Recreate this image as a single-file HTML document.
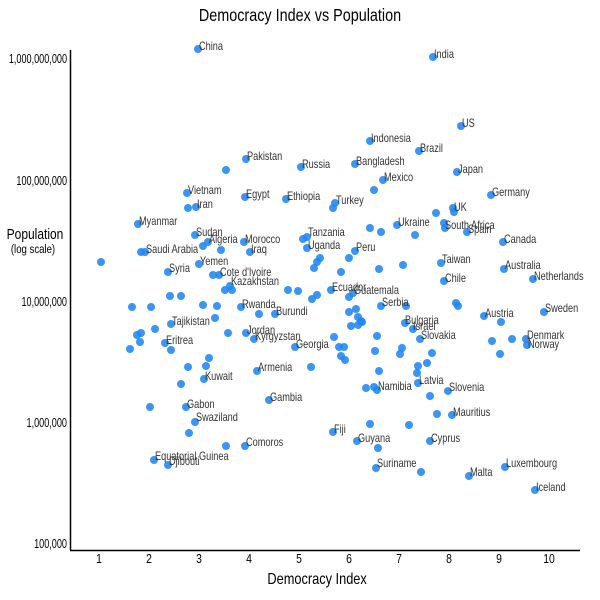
<!DOCTYPE html>
<html><head><meta charset="utf-8"><style>
body{margin:0;background:#fff}
svg{display:block}
text{font-family:"Liberation Sans",sans-serif;fill:#222;transform-box:fill-box;transform:scaleX(0.8)}
.l text{transform-origin:left center}
.l{font-size:11.5px}
.l text{fill:#333}
.t{font-size:13px}
.t text{fill:#000}
.e text{transform-origin:right center;transform:scaleX(0.7)}
.m{transform-origin:center center}
</style></head><body>
<svg width="600" height="600" xmlns="http://www.w3.org/2000/svg">
<text class="m" x="300" y="21" text-anchor="middle" style="font-size:18px;fill:#000">Democracy Index vs Population</text>
<text class="m" x="35" y="239" text-anchor="middle" style="font-size:15px;fill:#000">Population</text>
<text class="m" x="33" y="253" text-anchor="middle" style="font-size:12px;fill:#000">(log scale)</text>
<text class="m" x="317" y="584" text-anchor="middle" style="font-size:16px;fill:#000">Democracy Index</text>
<line x1="70.5" y1="50" x2="70.5" y2="550" stroke="#000" stroke-width="1.5"/>
<line x1="70" y1="550.5" x2="580" y2="550.5" stroke="#000" stroke-width="1.5"/>
<g class="t e" text-anchor="end">
<text x="67" y="63">1,000,000,000</text>
<text x="67" y="185">100,000,000</text>
<text x="67" y="306">10,000,000</text>
<text x="67" y="427">1,000,000</text>
<text x="67" y="548">100,000</text>
</g>
<g class="t" text-anchor="middle">
<text class="m" x="99" y="563">1</text><text class="m" x="149" y="563">2</text><text class="m" x="199" y="563">3</text><text class="m" x="249" y="563">4</text><text class="m" x="299" y="563">5</text><text class="m" x="349" y="563">6</text><text class="m" x="399" y="563">7</text><text class="m" x="449" y="563">8</text><text class="m" x="499" y="563">9</text><text class="m" x="549" y="563">10</text>
</g>
<g fill="#1f86f5" fill-opacity="0.88">
<circle cx="198" cy="49" r="4"/><circle cx="433" cy="57" r="4"/><circle cx="461" cy="126" r="4"/><circle cx="370" cy="141" r="4"/><circle cx="246" cy="159" r="4"/><circle cx="301" cy="167" r="4"/><circle cx="355" cy="164" r="4"/><circle cx="419" cy="151" r="4"/><circle cx="457" cy="172" r="4"/><circle cx="383" cy="180" r="4"/><circle cx="226" cy="170" r="4"/><circle cx="374" cy="190" r="4"/>
<circle cx="187" cy="193" r="4"/><circle cx="245" cy="197" r="4"/><circle cx="286" cy="199" r="4"/><circle cx="335" cy="203" r="4"/><circle cx="333" cy="208" r="4"/><circle cx="491" cy="195" r="4"/><circle cx="196" cy="207" r="4"/><circle cx="188" cy="208" r="4"/><circle cx="453" cy="208" r="4"/><circle cx="454" cy="212" r="4"/><circle cx="436" cy="213" r="4"/><circle cx="397" cy="225" r="4"/><circle cx="370" cy="228" r="4"/><circle cx="381" cy="232" r="4"/><circle cx="444" cy="223" r="4"/><circle cx="445" cy="228" r="4"/><circle cx="467" cy="232" r="4"/><circle cx="415" cy="235" r="4"/>
<circle cx="138" cy="224" r="4"/><circle cx="307" cy="237" r="4"/><circle cx="303" cy="239" r="4"/><circle cx="503" cy="242" r="4"/><circle cx="195" cy="235" r="4"/><circle cx="208" cy="242" r="4"/><circle cx="203" cy="246" r="4"/><circle cx="244" cy="242" r="4"/><circle cx="250" cy="252" r="4"/><circle cx="221" cy="250" r="4"/><circle cx="307" cy="248" r="4"/><circle cx="355" cy="251" r="4"/><circle cx="141" cy="252" r="4"/><circle cx="145" cy="252" r="4"/><circle cx="101" cy="262" r="4"/>
<circle cx="441" cy="263" r="4"/><circle cx="504" cy="269" r="4"/><circle cx="168" cy="272" r="4"/><circle cx="199" cy="264" r="4"/><circle cx="213" cy="275" r="4"/><circle cx="219" cy="275" r="4"/><circle cx="533" cy="279" r="4"/><circle cx="444" cy="281" r="4"/><circle cx="230" cy="286" r="4"/><circle cx="225" cy="290" r="4"/><circle cx="232" cy="290" r="4"/>
<circle cx="320" cy="258" r="4"/><circle cx="317" cy="262" r="4"/><circle cx="314" cy="268" r="4"/><circle cx="349" cy="258" r="4"/><circle cx="341" cy="272" r="4"/><circle cx="379" cy="269" r="4"/><circle cx="403" cy="265" r="4"/>
<circle cx="331" cy="290" r="4"/><circle cx="349" cy="297" r="4"/><circle cx="353" cy="293" r="4"/><circle cx="381" cy="306" r="4"/><circle cx="298" cy="291" r="4"/><circle cx="288" cy="290" r="4"/><circle cx="317" cy="295" r="4"/><circle cx="312" cy="299" r="4"/><circle cx="406" cy="306" r="4"/><circle cx="456" cy="303" r="4"/><circle cx="458" cy="306" r="4"/><circle cx="484" cy="316" r="4"/><circle cx="501" cy="322" r="4"/><circle cx="544" cy="312" r="4"/>
<circle cx="349" cy="312" r="4"/><circle cx="356" cy="309" r="4"/><circle cx="358" cy="317" r="4"/><circle cx="361" cy="321" r="4"/><circle cx="351" cy="326" r="4"/><circle cx="358" cy="325" r="4"/><circle cx="362" cy="322" r="4"/><circle cx="405" cy="323" r="4"/><circle cx="413" cy="329" r="4"/><circle cx="420" cy="339" r="4"/><circle cx="377" cy="336" r="4"/><circle cx="334" cy="337" r="4"/><circle cx="339" cy="347" r="4"/><circle cx="344" cy="347" r="4"/><circle cx="341" cy="356" r="4"/><circle cx="345" cy="360" r="4"/><circle cx="311" cy="367" r="4"/><circle cx="375" cy="351" r="4"/><circle cx="402" cy="348" r="4"/><circle cx="379" cy="371" r="4"/><circle cx="432" cy="353" r="4"/><circle cx="427" cy="363" r="4"/><circle cx="418" cy="366" r="4"/><circle cx="417" cy="373" r="4"/><circle cx="400" cy="354" r="4"/>
<circle cx="512" cy="339" r="4"/><circle cx="526" cy="339" r="4"/><circle cx="527" cy="345" r="4"/><circle cx="492" cy="341" r="4"/><circle cx="500" cy="354" r="4"/>
<circle cx="132" cy="307" r="4"/><circle cx="151" cy="307" r="4"/><circle cx="170" cy="296" r="4"/><circle cx="181" cy="296" r="4"/><circle cx="203" cy="305" r="4"/><circle cx="217" cy="306" r="4"/><circle cx="215" cy="318" r="4"/><circle cx="241" cy="307" r="4"/><circle cx="259" cy="314" r="4"/><circle cx="275" cy="314" r="4"/><circle cx="171" cy="324" r="4"/><circle cx="155" cy="329" r="4"/><circle cx="137" cy="335" r="4"/><circle cx="141" cy="333" r="4"/><circle cx="140" cy="342" r="4"/><circle cx="130" cy="349" r="4"/><circle cx="165" cy="343" r="4"/><circle cx="171" cy="350" r="4"/><circle cx="228" cy="333" r="4"/><circle cx="246" cy="333" r="4"/><circle cx="254" cy="339" r="4"/><circle cx="295" cy="347" r="4"/><circle cx="209" cy="358" r="4"/><circle cx="206" cy="366" r="4"/><circle cx="188" cy="367" r="4"/><circle cx="181" cy="384" r="4"/><circle cx="204" cy="379" r="4"/><circle cx="257" cy="371" r="4"/><circle cx="150" cy="407" r="4"/><circle cx="186" cy="407" r="4"/><circle cx="269" cy="400" r="4"/><circle cx="195" cy="422" r="4"/><circle cx="189" cy="433" r="4"/>
<circle cx="366" cy="388" r="4"/><circle cx="374" cy="387" r="4"/><circle cx="377" cy="390" r="4"/><circle cx="418" cy="383" r="4"/><circle cx="430" cy="396" r="4"/><circle cx="448" cy="391" r="4"/><circle cx="437" cy="414" r="4"/><circle cx="452" cy="415" r="4"/><circle cx="370" cy="424" r="4"/><circle cx="409" cy="425" r="4"/><circle cx="333" cy="432" r="4"/><circle cx="357" cy="441" r="4"/><circle cx="378" cy="448" r="4"/><circle cx="430" cy="441" r="4"/><circle cx="376" cy="468" r="4"/><circle cx="421" cy="472" r="4"/><circle cx="469" cy="476" r="4"/><circle cx="505" cy="467" r="4"/><circle cx="535" cy="490" r="4"/>
<circle cx="226" cy="446" r="4"/><circle cx="245" cy="446" r="4"/><circle cx="154" cy="460" r="4"/><circle cx="168" cy="465" r="4"/>
</g>
<g class="l">
<text x="199" y="50">China</text><text x="434" y="58">India</text><text x="462" y="127">US</text><text x="371" y="142">Indonesia</text><text x="247" y="160">Pakistan</text><text x="302" y="168">Russia</text><text x="356" y="165">Bangladesh</text><text x="420" y="152">Brazil</text><text x="458" y="173">Japan</text><text x="384" y="181">Mexico</text>
<text x="188" y="194">Vietnam</text><text x="246" y="198">Egypt</text><text x="287" y="200">Ethiopia</text><text x="336" y="204">Turkey</text><text x="492" y="196">Germany</text><text x="197" y="208">Iran</text><text x="454" y="211">UK</text><text x="398" y="226">Ukraine</text><text x="445" y="229">South Africa</text><text x="468" y="233">Spain</text>
<text x="139" y="225">Myanmar</text><text x="308" y="236">Tanzania</text><text x="504" y="243">Canada</text><text x="196" y="236">Sudan</text><text x="209" y="243">Algeria</text><text x="245" y="243">Morocco</text><text x="251" y="253">Iraq</text><text x="308" y="249">Uganda</text><text x="356" y="251">Peru</text><text x="146" y="253">Saudi Arabia</text>
<text x="442" y="263">Taiwan</text><text x="505" y="269">Australia</text><text x="169" y="272">Syria</text><text x="200" y="265">Yemen</text><text x="220" y="276">Cote d'Ivoire</text><text x="534" y="280">Netherlands</text><text x="445" y="282">Chile</text><text x="231" y="285">Kazakhstan</text>
<text x="332" y="291">Ecuador</text><text x="354" y="294">Guatemala</text><text x="382" y="306">Serbia</text><text x="242" y="308">Rwanda</text><text x="276" y="315">Burundi</text><text x="485" y="317">Austria</text><text x="545" y="312">Sweden</text><text x="172" y="325">Tajikistan</text><text x="405" y="324">Bulgaria</text><text x="413" y="330">Israel</text><text x="247" y="334">Jordan</text><text x="421" y="339">Slovakia</text><text x="527" y="339">Denmark</text><text x="528" y="348">Norway</text><text x="255" y="340">Kyrgyzstan</text><text x="166" y="344">Eritrea</text><text x="296" y="348">Georgia</text>
<text x="258" y="371">Armenia</text><text x="205" y="380">Kuwait</text><text x="419" y="384">Latvia</text><text x="449" y="391">Slovenia</text><text x="378" y="390">Namibia</text><text x="270" y="401">Gambia</text><text x="187" y="408">Gabon</text><text x="453" y="416">Mauritius</text><text x="196" y="421">Swaziland</text><text x="334" y="433">Fiji</text><text x="358" y="442">Guyana</text><text x="431" y="442">Cyprus</text><text x="246" y="446">Comoros</text><text x="155" y="460">Equatorial Guinea</text><text x="169" y="465">Djibouti</text><text x="377" y="467">Suriname</text><text x="506" y="467">Luxembourg</text><text x="470" y="476">Malta</text><text x="536" y="491">Iceland</text>
</g>
</svg>
</body></html>
